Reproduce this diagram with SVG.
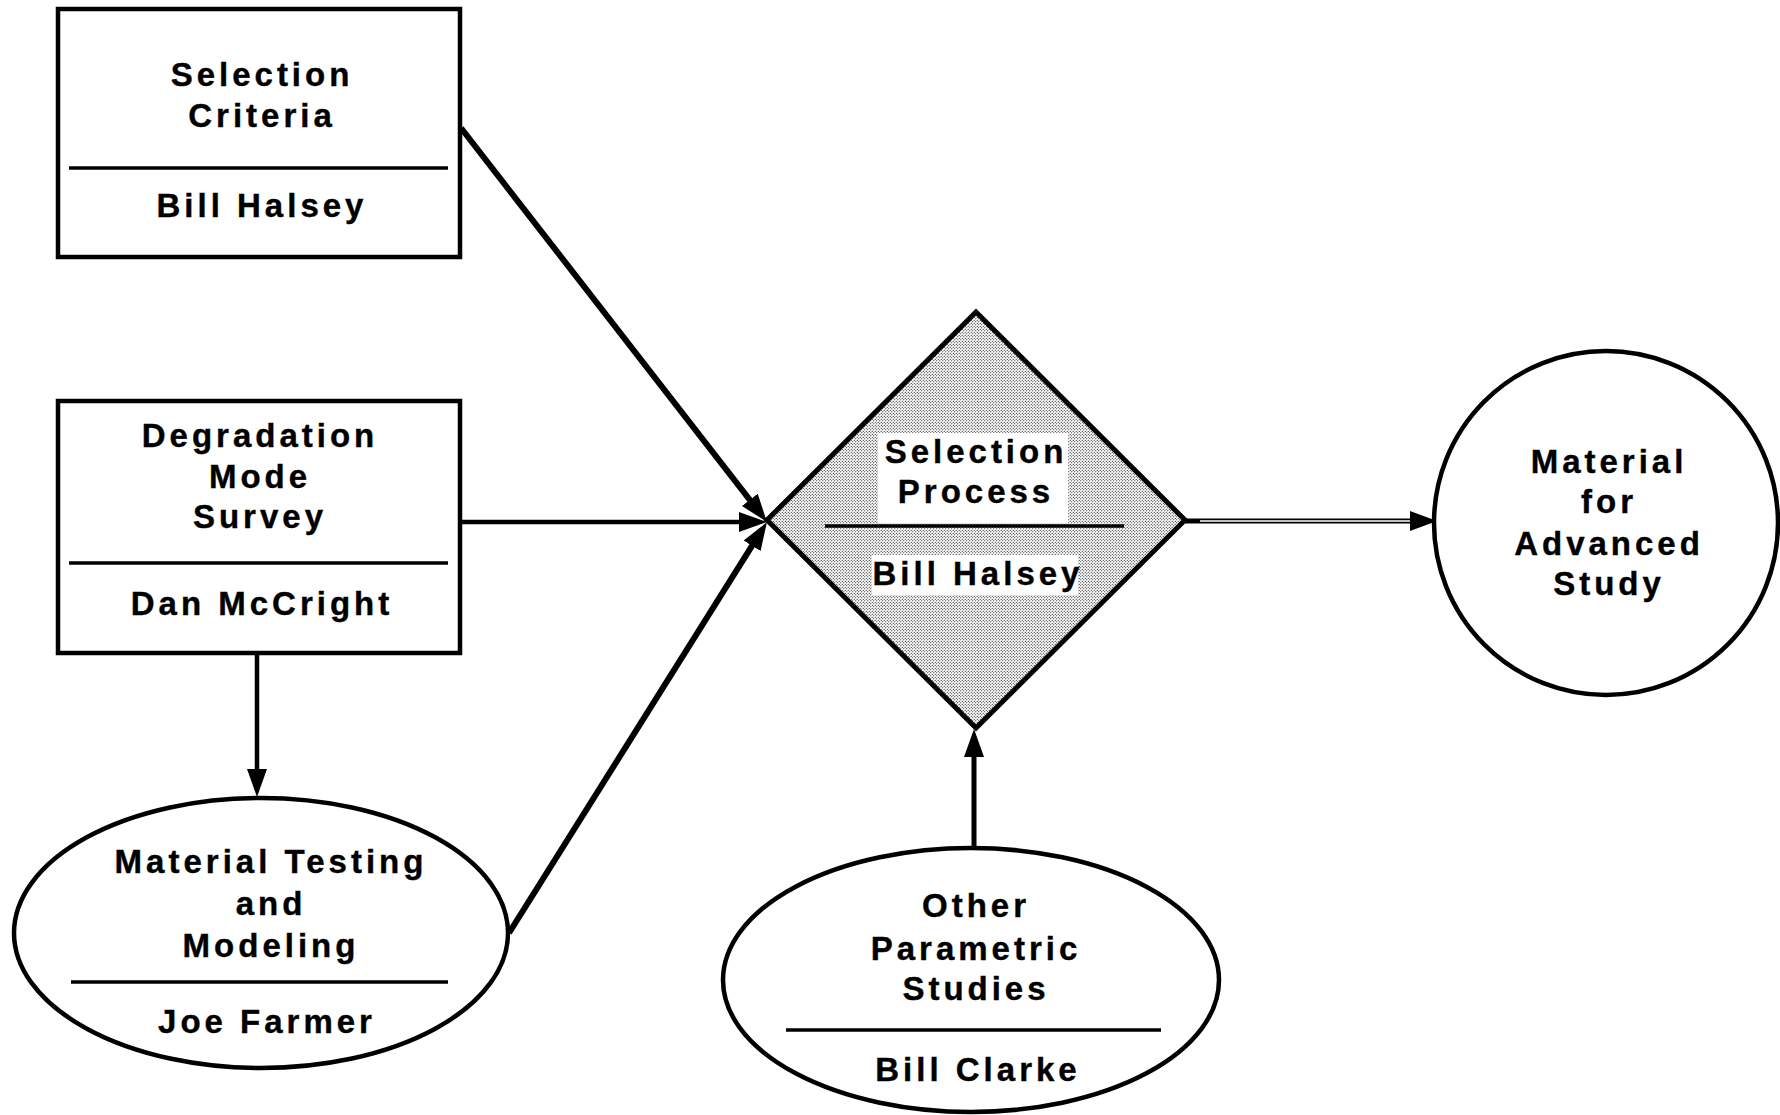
<svg xmlns="http://www.w3.org/2000/svg" width="1780" height="1115" viewBox="0 0 1780 1115">
<style>
text{font-family:"Liberation Sans",Arial,Helvetica,sans-serif;font-weight:bold;font-size:33px;letter-spacing:4px;fill:#000;text-anchor:middle;stroke:#000;stroke-width:0.4}
.shape{fill:#fff;stroke:#000;stroke-width:4.5}
.div{stroke:#000;stroke-width:3.5}
.con{stroke:#000;fill:none;stroke-linecap:butt}
</style>
<defs>
<pattern id="stip" width="3" height="3" patternUnits="userSpaceOnUse">
<rect width="3" height="3" fill="#fff"/>
<circle cx="0.75" cy="0.75" r="0.6" fill="#000"/>
<circle cx="2.25" cy="2.25" r="0.6" fill="#000"/>
</pattern>
<marker id="ah" markerUnits="userSpaceOnUse" markerWidth="28" markerHeight="20" viewBox="0 0 28 20" refX="16" refY="10" orient="auto">
<path d="M0,0 L28,10 L0,20 z" fill="#000"/>
</marker>
</defs>
<rect width="1780" height="1115" fill="#fff"/>

<g id="connectors">
<line class="con" x1="461" y1="128" x2="759.6" y2="512.5" stroke-width="6" marker-end="url(#ah)"/>
<line class="con" x1="461" y1="522" x2="755" y2="522" stroke-width="4.5" marker-end="url(#ah)"/>
<line class="con" x1="509" y1="933" x2="760.6" y2="532.2" stroke-width="6" marker-end="url(#ah)"/>
<line class="con" x1="257" y1="653" x2="257" y2="785" stroke-width="4.5" marker-end="url(#ah)"/>
<line class="con" x1="974" y1="848" x2="974" y2="741" stroke-width="5" marker-end="url(#ah)"/>
<line class="con" x1="1185" y1="521" x2="1414" y2="521" stroke-width="5"/>
<line x1="1200" y1="521" x2="1412" y2="521" stroke="#fff" stroke-width="1.6"/>
<path d="M1410,511 L1437,521 L1410,531 z" fill="#000"/>
</g>

<g id="node-selection-criteria">
<rect class="shape" x="58" y="9" width="402" height="248"/>
<text x="262" y="86">Selection</text>
<text x="262" y="127">Criteria</text>
<line class="div" x1="69" y1="168" x2="448" y2="168"/>
<text x="262" y="217">Bill Halsey</text>
</g>

<g id="node-degradation">
<rect class="shape" x="58" y="401" width="402" height="252"/>
<text x="260" y="447">Degradation</text>
<text x="260" y="488">Mode</text>
<text x="260" y="528">Survey</text>
<line class="div" x1="69" y1="563" x2="448" y2="563"/>
<text x="262" y="615">Dan McCright</text>
</g>

<g id="node-material-testing">
<ellipse class="shape" cx="261" cy="933" rx="247" ry="135" stroke-width="3.5"/>
<text x="271" y="873">Material Testing</text>
<text x="271" y="915">and</text>
<text x="271" y="957">Modeling</text>
<line class="div" x1="71" y1="982" x2="448" y2="982"/>
<text x="267" y="1033">Joe Farmer</text>
</g>

<g id="node-selection-process">
<polygon points="976,312 1185,520 976,728 767,520" fill="url(#stip)" stroke="#000" stroke-width="5" stroke-linejoin="miter"/>
<rect x="878" y="433" width="190" height="90" fill="#fff"/>
<rect x="872" y="555" width="206" height="40" fill="#fff"/>
<text x="976" y="463">Selection</text>
<text x="976" y="503">Process</text>
<line class="div" x1="825" y1="526" x2="1124" y2="526"/>
<text x="978" y="585">Bill Halsey</text>
</g>

<g id="node-material-advanced">
<circle class="shape" cx="1606" cy="523" r="172"/>
<text x="1609" y="473">Material</text>
<text x="1609" y="513">for</text>
<text x="1609" y="555">Advanced</text>
<text x="1609" y="595">Study</text>
</g>

<g id="node-other-parametric">
<ellipse class="shape" cx="971" cy="980" rx="248" ry="132" stroke-width="3.5"/>
<text x="976" y="917">Other</text>
<text x="976" y="960">Parametric</text>
<text x="976" y="1000">Studies</text>
<line class="div" x1="786" y1="1030" x2="1161" y2="1030"/>
<text x="978" y="1081">Bill Clarke</text>
</g>
</svg>
